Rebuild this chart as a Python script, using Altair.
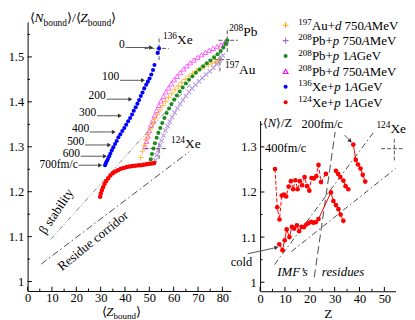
import altair as alt
import pandas as pd

S = 0.975
FONT = "Liberation Serif"

# ================= main panel data =================
xe136_z = [54.0, 53.4, 52.1, 51.5, 50.8, 50.1, 49.4, 48.7, 47.9, 47.2, 46.5, 45.8, 45.1, 44.4, 43.6, 42.9, 42.1,
           41.3, 40.5, 39.7, 38.9, 38.1, 37.3, 36.6, 35.9, 35.2, 34.6, 34.0, 33.5, 33.0, 32.5, 32.1, 31.8]
xe136_r = [1.519, 1.509, 1.482, 1.471, 1.461, 1.452, 1.445, 1.438, 1.430, 1.421, 1.413, 1.404, 1.396, 1.388, 1.380,
           1.372, 1.364, 1.357, 1.349, 1.342, 1.335, 1.328, 1.321, 1.313, 1.306, 1.299, 1.292, 1.285, 1.279, 1.273,
           1.268, 1.263, 1.259]

xe124_z = [29.8, 30.1, 30.5, 31.0, 31.6, 32.3, 33.1, 34.0, 35.0, 36.0, 37.1, 38.3, 39.5, 40.7, 41.9, 43.1, 44.3,
           45.5, 46.6, 47.7, 48.8, 49.9, 51.0, 52.0]
xe124_r = [1.189, 1.196, 1.203, 1.210, 1.217, 1.224, 1.230, 1.236, 1.241, 1.245, 1.248, 1.251, 1.253, 1.255, 1.256,
           1.257, 1.258, 1.259, 1.259, 1.260, 1.261, 1.262, 1.263, 1.264]

au197d_z = [46.5, 47.2, 47.9, 48.7, 49.5, 50.4, 51.3, 52.3, 53.3, 54.4, 55.5, 56.7, 57.9, 59.2, 60.5, 61.9, 63.3,
            64.8, 66.3, 67.8, 69.4, 71.0, 72.6, 74.2, 75.8, 77.3, 78.5]
au197d_r = [1.276, 1.290, 1.303, 1.316, 1.328, 1.340, 1.351, 1.362, 1.372, 1.382, 1.392, 1.401, 1.410, 1.419, 1.427,
            1.435, 1.443, 1.450, 1.457, 1.463, 1.469, 1.474, 1.479, 1.483, 1.486, 1.489, 1.492]

pb208d_z = [48.3, 48.8, 49.4, 50.0, 50.7, 51.4, 52.2, 53.0, 53.9, 54.8, 55.8, 56.8, 57.9, 59.0, 60.2, 61.4, 62.7,
            64.0, 65.4, 66.8, 68.3, 69.8, 71.4, 73.0, 74.6, 76.2, 77.8, 79.4, 80.8, 81.6]
pb208d_r = [1.300, 1.312, 1.324, 1.336, 1.348, 1.359, 1.370, 1.381, 1.392, 1.402, 1.412, 1.422, 1.431, 1.440, 1.449,
            1.457, 1.465, 1.473, 1.480, 1.487, 1.493, 1.499, 1.505, 1.510, 1.515, 1.519, 1.523, 1.527, 1.531, 1.534]

pb208p1_z = [50.6, 51.1, 51.7, 52.3, 53.0, 53.7, 54.5, 55.3, 56.2, 57.1, 58.1, 59.1, 60.2, 61.3, 62.5, 63.7, 65.0,
             66.3, 67.7, 69.1, 70.6, 72.1, 73.6, 75.1, 76.6, 78.0, 79.3, 80.4, 81.3, 82.0]
pb208p1_r = [1.272, 1.284, 1.296, 1.308, 1.320, 1.331, 1.342, 1.353, 1.364, 1.375, 1.385, 1.395, 1.405, 1.414,
             1.423, 1.432, 1.441, 1.449, 1.457, 1.465, 1.472, 1.479, 1.486, 1.492, 1.499, 1.506, 1.513, 1.521,
             1.529, 1.537]

pb208p750_z = [52.5, 53.0, 53.6, 54.3, 55.0, 55.8, 56.6, 57.5, 58.4, 59.4, 60.4, 61.5, 62.6, 63.8, 65.0, 66.3, 67.6,
               69.0, 70.4, 71.8, 73.3, 74.8, 76.3, 77.7, 79.0, 80.2]
pb208p750_r = [1.270, 1.281, 1.292, 1.303, 1.314, 1.325, 1.336, 1.346, 1.356, 1.366, 1.376, 1.386, 1.395, 1.404,
               1.413, 1.422, 1.430, 1.438, 1.446, 1.453, 1.461, 1.468, 1.476, 1.484, 1.493, 1.503]

# time labels on the 136Xe curve and their arrows
time_labels = ["0", "100", "200", "300", "400", "500", "600", "700fm/c"]
time_label_r = [1.529, 1.457, 1.415, 1.378, 1.3426, 1.312, 1.287, 1.2625]
arrow_z0 = [40.2, 37.9, 32.4, 28.5, 25.6, 23.6, 21.8, 20.9]
arrow_z1 = [50.7, 47.4, 42.2, 37.9, 35.4, 33.5, 31.8, 29.8]
arrow_r = [1.521, 1.448, 1.406, 1.369, 1.333, 1.304, 1.279, 1.259]

# projectile markers (dashed crosses)
cross_names = ["136Xe", "208Pb", "197Au", "124Xe"]
cross_z = [54.0, 82.0, 79.0, 54.0]
cross_r = [1.519, 1.537, 1.494, 1.296]
cross_h0 = [48.0, 78.4, 74.3, 48.0]
cross_h1 = [58.0, 86.3, 83.4, 57.3]
cross_v0 = [1.493, 1.511, 1.468, 1.273]
cross_v1 = [1.546, 1.564, 1.514, 1.309]

# guide lines
beta_z = [9.5, 67.0]
beta_r = [1.094, 1.440]
resid_z = [5.6, 66.4]
resid_r = [1.039, 1.289]

main_x_major = [0, 10, 20, 30, 40, 50, 60, 70, 80]
main_x_minor = [5, 15, 25, 35, 45, 55, 65, 75]
main_y_major = [1.0, 1.1, 1.2, 1.3, 1.4, 1.5]
main_y_minor = [1.05, 1.15, 1.25, 1.35, 1.45, 1.55]

# ================= inset data =================
cold_z = [7.7, 9.0, 9.9, 10.7, 11.8, 12.8, 13.7, 14.8, 15.7, 16.7, 17.6, 18.6, 19.5, 20.5, 21.4, 22.4, 23.5,
          28.5, 29.5, 30.5, 31.5, 32.4, 33.5]
cold_r = [1.084, 1.071, 1.093, 1.117, 1.100, 1.123, 1.119, 1.126, 1.113, 1.123, 1.122, 1.128, 1.131, 1.134, 1.132,
          1.133, 1.140, 1.199, 1.180, 1.171, 1.162, 1.150, 1.136]
t400a_z = [6.0, 6.9, 7.8, 8.7, 9.6, 10.5, 11.5, 12.4, 13.3, 14.2, 15.1, 16.0, 16.9, 17.9, 18.9, 19.8, 20.7, 21.6,
           22.6, 23.5, 24.5, 26.5]
t400a_r = [1.251, 1.166, 1.139, 1.192, 1.194, 1.190, 1.212, 1.224, 1.206, 1.226, 1.206, 1.224, 1.215, 1.233, 1.213,
           1.203, 1.231, 1.230, 1.235, 1.260, 1.222, 1.240]
t400b_z = [30.5, 31.4, 32.3, 33.5, 34.4, 35.5]
t400b_r = [1.247, 1.240, 1.233, 1.225, 1.213, 1.206]
t200_z = [37.5, 38.5, 39.4, 40.4, 41.3, 42.3]
t200_r = [1.305, 1.271, 1.261, 1.252, 1.238, 1.223]

in_dd1_z = [5.8, 45.5]
in_dd1_r = [1.039, 1.331]
in_dd2_z = [12.6, 54.5]
in_dd2_r = [1.068, 1.252]
in_dash_z = [21.8, 30.2]
in_dash_r = [1.011, 1.333]

in_x_major = [0, 10, 20, 30, 40, 50]
in_x_minor = [5, 15, 25, 35, 45]
in_y_major = [1.0, 1.1, 1.2, 1.3]
in_y_minor = [1.05, 1.15, 1.25, 1.35]

legend_colors = ["#FFA500", "#9A6BDB", "#1E8C1E", "#FF00FF", "#0000FF", "#FF0000"]
legend_texts = [
    [("197", "sup"), ("Au+", "n"), ("d", "i"), (" 750", "n"), ("A", "i"), ("MeV", "n")],
    [("208", "sup"), ("Pb+", "n"), ("p", "i"), (" 750", "n"), ("A", "i"), ("MeV", "n")],
    [("208", "sup"), ("Pb+", "n"), ("p", "i"), (" 1", "n"), ("A", "i"), ("GeV", "n")],
    [("208", "sup"), ("Pb+", "n"), ("d", "i"), (" 750", "n"), ("A", "i"), ("MeV", "n")],
    [("136", "sup"), ("Xe+", "n"), ("p", "i"), (" 1", "n"), ("A", "i"), ("GeV", "n")],
    [("124", "sup"), ("Xe+", "n"), ("p", "i"), (" 1", "n"), ("A", "i"), ("GeV", "n")],
]

# ================= helpers =================
WR = {' ': .25, '+': .564, '/': .278, '.': .25, "'": .333, 'A': .722, 'G': .722, 'M': .889, 'V': .722, 'X': .722,
      'P': .556, 'Z': .611, 'N': .722, 'a': .444, 'b': .5, 'c': .444, 'd': .5, 'e': .444, 'f': .333, 'i': .278,
      'l': .278, 'm': .778, 'n': .5, 'o': .5, 'p': .5, 'r': .333, 's': .389, 't': .278, 'u': .5, 'y': .5,
      '⟨': .36, '⟩': .36}
WI = {'d': .5, 'p': .5, 'A': .611, 'N': .667, 'Z': .556, 'I': .333, 'M': .833, 'F': .611, '’': .333, 's': .389,
      'r': .389, 'e': .444, 'i': .278, 'u': .5, ' ': .25}

PLUS = "M-1,0L1,0M0,-1L0,1"
XMARK = "M-1,-1L1,1M-1,1L1,-1"


def rich(segs, x, y, X, Y, size, align="left", color="black", sub=0.3):
    widths, sizes = [], []
    for t, k in segs:
        fs = size * 0.7 if k in ("sup", "sub") else size
        tbl = WI if k == "i" else WR
        widths.append(sum(tbl.get(c, 0.5) for c in t) * fs)
        sizes.append(fs)
    total = sum(widths)
    off = 0.0 if align == "left" else (-total / 2 if align == "center" else -total)
    df = pd.DataFrame({"x": [x], "y": [y]})
    out = []
    for (t, k), w, fs in zip(segs, widths, sizes):
        lead = len(t) - len(t.lstrip(" "))
        dy = -size * 0.38 if k == "sup" else (size * sub if k == "sub" else 0)
        out.append(alt.Chart(df).mark_text(
            text=t.strip(" "), align="left", baseline="alphabetic", dx=off + lead * 0.25 * fs, dy=dy, font=FONT,
            fontSize=fs, fontStyle="italic" if k == "i" else "normal", color=color).encode(x=X("x"), y=Y("y")))
        off += w
    return out


def seg_rules(X, Y, x0, x1, y0, y1, **kw):
    df = pd.DataFrame({"x": x0, "x2": x1, "y": y0, "y2": y1})
    return alt.Chart(df).mark_rule(**kw).encode(x=X("x"), x2="x2:Q", y=Y("y"), y2="y2:Q")


def line(X, Y, xs, ys, **kw):
    df = pd.DataFrame({"x": xs, "y": ys, "o": list(range(len(xs)))})
    return alt.Chart(df).mark_line(**kw).encode(x=X("x"), y=Y("y"), order="o:Q")


def pts(X, Y, xs, ys, **kw):
    df = pd.DataFrame({"x": xs, "y": ys})
    return alt.Chart(df).mark_point(**kw).encode(x=X("x"), y=Y("y"))


def axis(values, fmt=None, title=None, pad=3):
    kw = dict(values=values, ticks=False, grid=False, domainColor="black", domainWidth=1, labelFont=FONT,
              labelFontSize=13 * S, labelColor="black", labelPadding=pad, labelFlush=False,
              labelOverlap=False, title=title)
    if fmt:
        kw["format"] = fmt
    if title:
        kw.update(titleFont=FONT, titleFontSize=14 * S, titleFontWeight="normal", titleColor="black",
                  titlePadding=1)
    return alt.Axis(**kw)


# ================= main panel =================
XL = alt.Scale(domain=[0, 83.5], nice=False, zero=False)
YL = alt.Scale(domain=[0.979, 1.578], nice=False, zero=False)
AXL = axis(main_x_major, pad=1)
AYL = axis(main_y_major, fmt="~g", pad=4)


def XLf(f):
    return alt.X(f, type="quantitative", scale=XL, axis=AXL)


def YLf(f):
    return alt.Y(f, type="quantitative", scale=YL, axis=AYL)


PXX, PXY = 2.547, 470.0  # reference px per data unit
L = []
# inward ticks
L.append(seg_rules(XLf, YLf, main_x_major, main_x_major, [0.979] * 9, [0.979 + 4.5 / PXY] * 9, color="black"))
L.append(seg_rules(XLf, YLf, main_x_minor, main_x_minor, [0.979] * 8, [0.979 + 2.5 / PXY] * 8, color="black"))
L.append(seg_rules(XLf, YLf, [0] * 6, [4.5 / PXX] * 6, main_y_major, main_y_major, color="black"))
L.append(seg_rules(XLf, YLf, [0] * 6, [2.5 / PXX] * 6, main_y_minor, main_y_minor, color="black"))
# guide lines
L.append(line(XLf, YLf, beta_z, beta_r, color="#777777", strokeWidth=0.9, strokeDash=[5, 2, 1, 2, 1, 2]))
L.append(line(XLf, YLf, resid_z, resid_r, color="#333333", strokeWidth=0.9, strokeDash=[7, 3, 1.5, 3]))
# dashed crosses
L.append(seg_rules(XLf, YLf, cross_h0, cross_h1, cross_r, cross_r, color="#555555", strokeDash=[4, 2]))
L.append(seg_rules(XLf, YLf, cross_z, cross_z, cross_v0, cross_v1, color="#555555", strokeDash=[4, 2]))
# series
L.append(pts(XLf, YLf, pb208d_z, pb208d_r, shape="triangle-up", filled=False, color="#FF00FF", size=26 * S * S,
             strokeWidth=0.9))
L.append(pts(XLf, YLf, au197d_z, au197d_r, shape=PLUS, filled=False, color="#FFA500", size=36 * S * S,
             strokeWidth=1.1))
L.append(pts(XLf, YLf, pb208p750_z, pb208p750_r, shape=XMARK, filled=False, color="#9A6BDB", size=20 * S * S,
             strokeWidth=1.1))
L.append(pts(XLf, YLf, pb208p1_z, pb208p1_r, shape="circle", filled=True, color="#1E8C1E", size=18 * S * S,
             opacity=1))
L.append(pts(XLf, YLf, xe124_z, xe124_r, shape="circle", filled=True, color="#FF0000", size=22 * S * S, opacity=1))
L.append(pts(XLf, YLf, xe136_z, xe136_r, shape="circle", filled=True, color="#0000FF", size=18 * S * S, opacity=1))
# arrows
L.append(seg_rules(XLf, YLf, arrow_z0, arrow_z1, arrow_r, arrow_r, color="#555555", strokeWidth=1))
L.append(pts(XLf, YLf, arrow_z1, arrow_r, shape="triangle-right", filled=True, color="#333333", size=22 * S * S,
             opacity=1))
L.append(alt.Chart(pd.DataFrame({"x": [z - 0.3 for z in arrow_z0], "y": time_label_r, "t": time_labels}))
         .mark_text(align="right", baseline="middle", font=FONT, fontSize=12 * S, color="black")
         .encode(x=XLf("x"), y=YLf("y"), text="t:N"))
# isotope labels
L += rich([("136", "sup"), ("Xe", "n")], 55.6, 1.5285, XLf, YLf, 14 * S)
L += rich([("208", "sup"), ("Pb", "n")], 82.8, 1.546, XLf, YLf, 14 * S)
L += rich([("197", "sup"), ("Au", "n")], 81.1, 1.463, XLf, YLf, 14 * S)
L += rich([("124", "sup"), ("Xe", "n")], 58.9, 1.298, XLf, YLf, 14 * S)
# rotated labels
L.append(alt.Chart(pd.DataFrame({"x": [11.8], "y": [1.156]})).mark_text(
    text="β stability", angle=304, font=FONT, fontSize=13.5 * S, align="center", baseline="middle",
    color="black").encode(x=XLf("x"), y=YLf("y")))
L.append(alt.Chart(pd.DataFrame({"x": [26.9], "y": [1.0904]})).mark_text(
    text="Residue corridor", angle=321, font=FONT, fontSize=13.5 * S, align="center", baseline="middle",
    color="black").encode(x=XLf("x"), y=YLf("y")))
# axis titles
L += rich([("⟨", "n"), ("N", "i"), ("bound", "sub"), ("⟩/⟨", "n"), ("Z", "i"), ("bound", "sub"), ("⟩", "n")],
          0.9, 1.5775, XLf, YLf, 14 * S)
L += rich([("⟨", "n"), ("Z", "i"), ("bound", "sub"), ("⟩", "n")], 30.4, 0.923, XLf, YLf, 13.5 * S, sub=0.2)

main = alt.layer(*L).properties(width=83.5 * PXX * S, height=(1.578 - 0.979) * PXY * S)

# ================= legend =================
LEG_W, LEG_H = 141.7, 95.3
XG = alt.Scale(domain=[0, LEG_W], nice=False, zero=False)
YG = alt.Scale(domain=[0, LEG_H], nice=False, zero=False, reverse=True)


def XGf(f):
    return alt.X(f, type="quantitative", scale=XG, axis=None)


def YGf(f):
    return alt.Y(f, type="quantitative", scale=YG, axis=None)


row_y = [3.5, 19.6, 35.7, 51.8, 67.9, 84.0]
G = []
shapes = [(PLUS, False, 36), (PLUS, False, 36), ("circle", True, 18), ("triangle-up", False, 26),
          ("circle", True, 18), ("circle", True, 18)]
for i, (col, segs) in enumerate(zip(legend_colors, legend_texts)):
    shp, fil, sz = shapes[i]
    G.append(pts(XGf, YGf, [26.7], [row_y[i]], shape=shp, filled=fil, color=col, size=sz * S * S,
                 strokeWidth=1.1, opacity=1))
    G += rich(segs, 40.0, row_y[i] + 4.6, XGf, YGf, 13.5 * S)
legend = alt.layer(*G).properties(width=LEG_W * S, height=LEG_H * S)

# ================= inset =================
XI = alt.Scale(domain=[0, 54.5], nice=False, zero=False)
YI = alt.Scale(domain=[0.98, 1.358], nice=False, zero=False)
AXI = axis(in_x_major, title="Z", pad=2)
AYI = axis(in_y_major, fmt="~g", pad=4)


def XIf(f):
    return alt.X(f, type="quantitative", scale=XI, axis=AXI)


def YIf(f):
    return alt.Y(f, type="quantitative", scale=YI, axis=AYI)


IPX, IPY = 2.6, 472.0
I = []
I.append(seg_rules(XIf, YIf, in_x_major, in_x_major, [0.98] * 6, [0.98 + 4.5 / IPY] * 6, color="black"))
I.append(seg_rules(XIf, YIf, in_x_minor, in_x_minor, [0.98] * 5, [0.98 + 2.5 / IPY] * 5, color="black"))
I.append(seg_rules(XIf, YIf, [0] * 4, [4.5 / IPX] * 4, in_y_major, in_y_major, color="black"))
I.append(seg_rules(XIf, YIf, [0] * 4, [2.5 / IPX] * 4, in_y_minor, in_y_minor, color="black"))
I.append(line(XIf, YIf, in_dd1_z, in_dd1_r, color="#333333", strokeWidth=0.9, strokeDash=[6, 3, 1.5, 3]))
I.append(line(XIf, YIf, in_dd2_z, in_dd2_r, color="#333333", strokeWidth=0.9, strokeDash=[6, 3, 1.5, 3]))
I.append(line(XIf, YIf, in_dash_z, in_dash_r, color="#333333", strokeWidth=0.9, strokeDash=[8, 4]))
I.append(seg_rules(XIf, YIf, [48.7], [57.5], [1.296], [1.296], color="#555555", strokeDash=[4, 2]))
I.append(seg_rules(XIf, YIf, [54.0], [54.0], [1.27], [1.32], color="#555555", strokeDash=[4, 2]))
I.append(line(XIf, YIf, t400a_z, t400a_r, color="#FF0000", strokeWidth=1, strokeDash=[4, 2]))
I.append(line(XIf, YIf, t400b_z, t400b_r, color="#FF0000", strokeWidth=1))
I.append(line(XIf, YIf, cold_z, cold_r, color="#FF0000", strokeWidth=1))
I.append(line(XIf, YIf, t200_z, t200_r, color="#FF0000", strokeWidth=1))
for zz, rr in [(t400a_z, t400a_r), (t400b_z, t400b_r), (cold_z, cold_r), (t200_z, t200_r)]:
    I.append(pts(XIf, YIf, zz, rr, shape="circle", filled=True, color="#FF0000", size=24 * S * S, opacity=1))
# arrows in the inset
I.append(seg_rules(XIf, YIf, [-5.0], [6.6], [1.063], [1.077], color="#555555"))
I.append(pts(XIf, YIf, [6.6], [1.077], shape="triangle-up", angle=78, filled=True, color="#333333",
             size=22 * S * S, opacity=1))
I.append(seg_rules(XIf, YIf, [34.0], [36.3], [1.326], [1.313], color="#555555"))
I.append(pts(XIf, YIf, [36.3], [1.313], shape="triangle-up", angle=135, filled=True, color="#333333",
             size=22 * S * S, opacity=1))
# inset labels
I += rich([("⟨", "n"), ("N", "i"), ("⟩/Z", "n")], 1.3, 1.345, XIf, YIf, 13 * S)
I += rich([("400fm/c", "n")], 10.3, 1.288, XIf, YIf, 13 * S, align="center")
I += rich([("200fm/c", "n")], 25.0, 1.342, XIf, YIf, 13 * S, align="center")
I += rich([("cold", "n")], -3.2, 1.036, XIf, YIf, 13 * S, align="right")
I += rich([("IMF’s", "i")], 13.4, 1.013, XIf, YIf, 13.5 * S, align="center")
I += rich([("residues", "i")], 33.5, 1.013, XIf, YIf, 13.5 * S, align="center")
I += rich([("124", "sup"), ("Xe", "n")], 46.8, 1.33, XIf, YIf, 14 * S)

inset = alt.layer(*I).properties(width=54.5 * IPX * S, height=(1.358 - 0.98) * IPY * S)

right = alt.vconcat(legend, inset, spacing=8 * S, bounds="flush")
chart = alt.hconcat(main, right, spacing=29.9 * S, bounds="flush").properties(padding=0).configure_view(
    stroke=None)

chart.save("out.html", embed_options={"renderer": "svg", "actions": False})
